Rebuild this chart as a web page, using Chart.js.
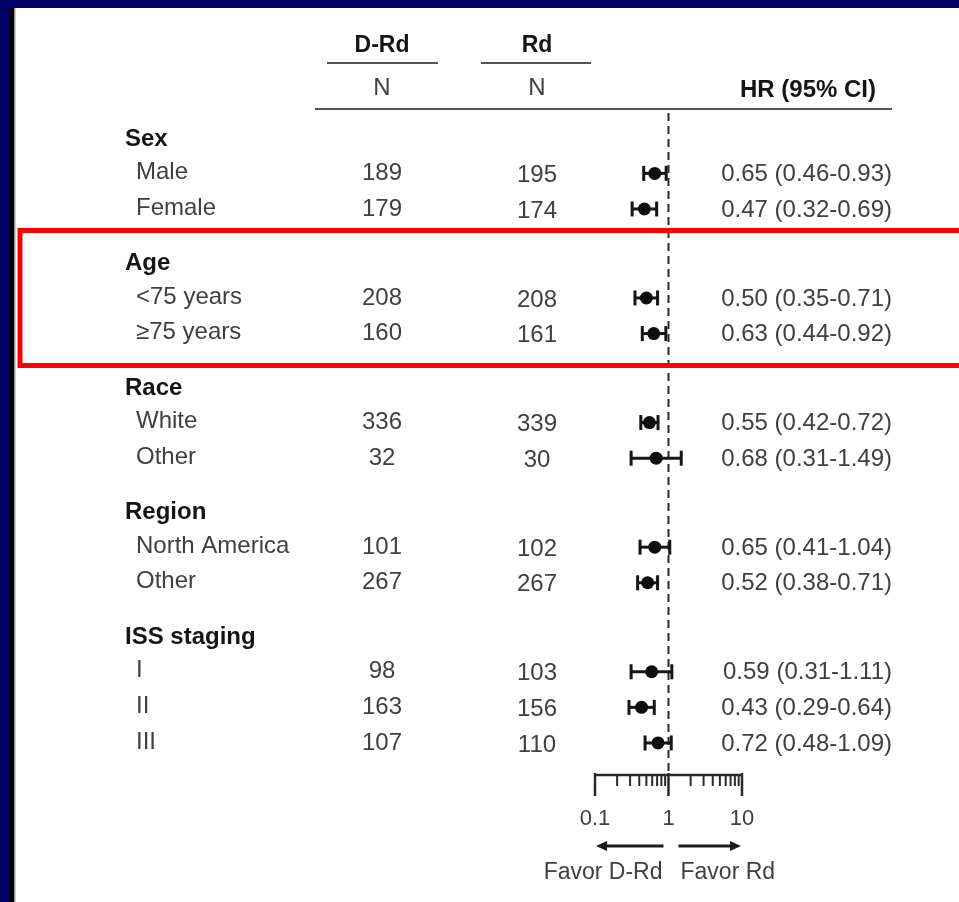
<!DOCTYPE html>
<html>
<head>
<meta charset="utf-8">
<script src="https://cdn.jsdelivr.net/npm/chart.js@4/dist/chart.umd.min.js"></script>
<style>
  html, body { margin: 0; padding: 0; background: #ffffff; }
  #wrap { width: 959px; height: 902px; position: relative; }
</style>
</head>
<body>
<div id="wrap"><canvas id="forest" width="959" height="902"></canvas></div>
<script>
// Subgroup analysis: D-Rd vs Rd, hazard ratios with 95% CI
const groups = ['Sex', 'Age', 'Race', 'Region', 'ISS staging'];
const groupSizes = [2, 2, 2, 2, 3];
const subgroups = ['Male', 'Female', '<75 years', '\u226575 years', 'White', 'Other',
                   'North America', 'Other', 'I', 'II', 'III'];
const nDRd = [189, 179, 208, 160, 336, 32, 101, 267, 98, 163, 107];
const nRd  = [195, 174, 208, 161, 339, 30, 102, 267, 103, 156, 110];
const hr   = [0.65, 0.47, 0.50, 0.63, 0.55, 0.68, 0.65, 0.52, 0.59, 0.43, 0.72];
const ciLo = [0.46, 0.32, 0.35, 0.44, 0.42, 0.31, 0.41, 0.38, 0.31, 0.29, 0.48];
const ciHi = [0.93, 0.69, 0.71, 0.92, 0.72, 1.49, 1.04, 0.71, 1.11, 0.64, 1.09];
const axisTicks = [0.1, 1, 10];
const axisTickLabels = ['0.1', '1', '10'];
const favorLabels = ['Favor D-Rd', 'Favor Rd'];

// Row layout (in row units): heading, then its subgroups, then a gap
const headingPos = [];
const rowPos = [];
(function () {
  let p = 0;
  groups.forEach((g, gi) => {
    headingPos.push(p);
    p += 1.05;
    for (let j = 0; j < groupSizes[gi]; j++) {
      rowPos.push(p);
      if (j < groupSizes[gi] - 1) p += 1.0;
    }
    p += 1.45;
  });
})();

const Y_MIN = -0.646, Y_MAX = 17.95;

const REG = '"Liberation Sans", Arial, sans-serif';
const TEXT = '#404040';
const BOLD = '#151515';

// Confidence-interval whiskers, one small line dataset per subgroup
const ciSets = subgroups.map((s, i) => ({
  type: 'line',
  data: [{ x: ciLo[i], y: rowPos[i] }, { x: ciHi[i], y: rowPos[i] }],
  borderColor: '#161616',
  borderWidth: 3,
  pointStyle: 'line',
  pointRotation: 90,
  pointRadius: 7.5,
  pointBorderWidth: 3,
  pointBorderColor: '#161616',
  pointBackgroundColor: '#161616',
  order: 2
}));

const framePlugin = {
  id: 'frame',
  beforeDraw(chart) {
    const ctx = chart.ctx;
    ctx.save();
    ctx.fillStyle = '#ffffff';
    ctx.fillRect(0, 0, chart.width, chart.height);
    ctx.fillStyle = '#000066';
    ctx.fillRect(0, 0, chart.width, 8);
    ctx.fillRect(0, 0, 9, chart.height);
    ctx.fillStyle = '#000000';
    ctx.fillRect(9, 8, 5, chart.height - 8);
    ctx.fillStyle = '#9a9a9a';
    ctx.fillRect(14, 8, 1.5, chart.height - 8);
    ctx.restore();
  }
};

function text(ctx, s, x, y, font, color, align) {
  ctx.font = font;
  ctx.fillStyle = color;
  ctx.textAlign = align || 'left';
  ctx.textBaseline = 'middle';
  ctx.fillText(s, x, y);
}

const tablePlugin = {
  id: 'table',
  afterDraw(chart) {
    const ctx = chart.ctx;
    const xs = chart.scales.x, ys = chart.scales.y;
    ctx.save();

    // Column headers
    text(ctx, 'D-Rd', 382, 46, 'bold 23px ' + REG, BOLD, 'center');
    text(ctx, 'Rd', 537, 46, 'bold 23px ' + REG, BOLD, 'center');
    text(ctx, 'N', 382, 88, '24px ' + REG, TEXT, 'center');
    text(ctx, 'N', 537, 88, '24px ' + REG, TEXT, 'center');
    text(ctx, 'HR (95% CI)', 876, 90, 'bold 24px ' + REG, BOLD, 'right');

    ctx.strokeStyle = '#555555';
    ctx.lineWidth = 2;
    ctx.beginPath();
    ctx.moveTo(327, 63); ctx.lineTo(438, 63);
    ctx.moveTo(481, 63); ctx.lineTo(591, 63);
    ctx.moveTo(315, 109); ctx.lineTo(892, 109);
    ctx.stroke();

    // Group headings
    groups.forEach((g, gi) => {
      const y = ys.getPixelForValue(headingPos[gi]);
      text(ctx, g, 125, y + 3, 'bold 24px ' + REG, BOLD, 'left');
    });

    // Subgroup rows
    subgroups.forEach((s, i) => {
      const y = ys.getPixelForValue(rowPos[i]);
      text(ctx, s, 136, y - 1, '24px ' + REG, TEXT, 'left');
      text(ctx, String(nDRd[i]), 382, y, '24px ' + REG, TEXT, 'center');
      text(ctx, String(nRd[i]), 537, y + 2, '24px ' + REG, TEXT, 'center');
      const lab = hr[i].toFixed(2) + ' (' + ciLo[i].toFixed(2) + '-' + ciHi[i].toFixed(2) + ')';
      text(ctx, lab, 892, y + 1, '24px ' + REG, TEXT, 'right');
    });

    // Log axis drawn from the x scale
    const yA = chart.chartArea.bottom;
    const x0 = xs.getPixelForValue(axisTicks[0]);
    const x1 = xs.getPixelForValue(axisTicks[axisTicks.length - 1]);
    ctx.strokeStyle = '#2a2a2a';
    ctx.lineWidth = 2.5;
    ctx.beginPath();
    ctx.moveTo(x0, yA); ctx.lineTo(x1, yA);
    ctx.stroke();
    ctx.lineWidth = 2;
    ctx.beginPath();
    for (let d = 0; d < axisTicks.length - 1; d++) {
      for (let m = 2; m <= 9; m++) {
        const px = xs.getPixelForValue(axisTicks[d] * m);
        ctx.moveTo(px, yA); ctx.lineTo(px, yA + 11);
      }
    }
    ctx.stroke();
    ctx.lineWidth = 2.5;
    ctx.beginPath();
    axisTicks.forEach(v => {
      const px = xs.getPixelForValue(v);
      ctx.moveTo(px, yA - 2); ctx.lineTo(px, yA + 21);
    });
    ctx.stroke();
    axisTicks.forEach((v, i) => {
      text(ctx, axisTickLabels[i], xs.getPixelForValue(v), 819, '22px ' + REG, TEXT, 'center');
    });

    // Direction arrows
    const xm = xs.getPixelForValue(1);
    const yArr = 846;
    ctx.strokeStyle = '#1a1a1a';
    ctx.fillStyle = '#1a1a1a';
    ctx.lineWidth = 3;
    ctx.beginPath();
    ctx.moveTo(xm - 5, yArr); ctx.lineTo(x0 + 8, yArr);
    ctx.moveTo(xm + 10, yArr); ctx.lineTo(x1 - 8, yArr);
    ctx.stroke();
    ctx.beginPath();
    ctx.moveTo(x0 + 1, yArr); ctx.lineTo(x0 + 12, yArr - 5); ctx.lineTo(x0 + 12, yArr + 5); ctx.closePath();
    ctx.moveTo(x1 - 1, yArr); ctx.lineTo(x1 - 12, yArr - 5); ctx.lineTo(x1 - 12, yArr + 5); ctx.closePath();
    ctx.fill();
    text(ctx, favorLabels[0], xm - 6, 873, '23px ' + REG, TEXT, 'right');
    text(ctx, favorLabels[1], xm + 12, 873, '23px ' + REG, TEXT, 'left');

    // Highlight box around the Age group
    const yTop = ys.getPixelForValue(headingPos[1]) - 30;
    const yBot = ys.getPixelForValue(rowPos[3]) + 32;
    ctx.strokeStyle = '#ff0000';
    ctx.lineWidth = 5;
    ctx.beginPath();
    ctx.moveTo(chart.width + 10, yTop);
    ctx.lineTo(20, yTop);
    ctx.lineTo(20, yBot);
    ctx.lineTo(chart.width + 10, yBot);
    ctx.stroke();

    ctx.restore();
  }
};

new Chart(document.getElementById('forest'), {
  type: 'scatter',
  data: {
    datasets: [
      {
        type: 'line',
        data: [{ x: 1, y: Y_MIN }, { x: 1, y: Y_MAX }],
        borderColor: '#2a2a2a',
        borderWidth: 2,
        borderDash: [8, 5],
        pointRadius: 0,
        order: 3
      },
      ...ciSets,
      {
        type: 'scatter',
        data: hr.map((v, i) => ({ x: v, y: rowPos[i] })),
        pointStyle: 'circle',
        pointRadius: 6.5,
        backgroundColor: '#0d0d0d',
        borderColor: '#0d0d0d',
        borderWidth: 0,
        order: 1
      }
    ]
  },
  options: {
    responsive: false,
    animation: false,
    events: [],
    layout: { padding: { left: 595, right: 217, top: 113, bottom: 127 } },
    plugins: { legend: { display: false }, tooltip: { enabled: false } },
    scales: {
      x: { type: 'logarithmic', min: 0.1, max: 10, display: false },
      y: { type: 'linear', min: Y_MIN, max: Y_MAX, reverse: true, display: false }
    }
  },
  plugins: [framePlugin, tablePlugin]
});
</script>
</body>
</html>
